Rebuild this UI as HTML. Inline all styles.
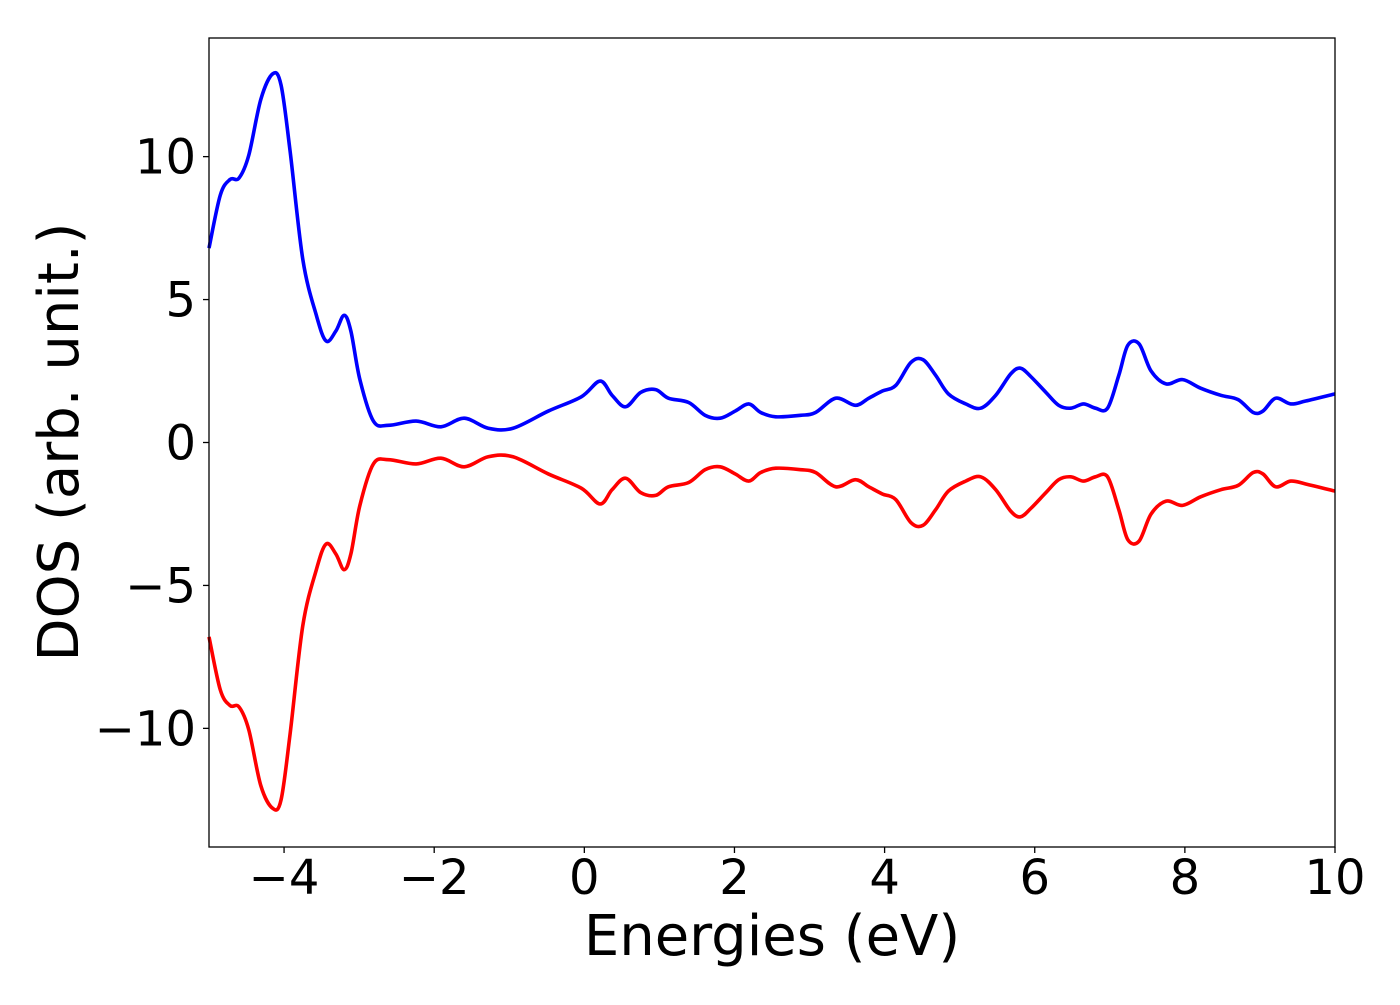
<!DOCTYPE html>
<html><head><meta charset="utf-8"><style>
html,body{margin:0;padding:0;background:#fff;}
svg text{font-family:"DejaVu Sans","Liberation Sans",sans-serif;fill:#000;}
</style></head><body>
<svg width="1400" height="1000" viewBox="0 0 1400 1000" xmlns="http://www.w3.org/2000/svg">
<rect width="1400" height="1000" fill="#fff"/>
<g id="plot"></g>
<rect x="209" y="38" width="1126" height="809" fill="none" stroke="#000" stroke-width="1.3"/>
<g id="xt"></g><g id="yt"></g>
<text x="772" y="955" font-size="56" text-anchor="middle">Energies (eV)</text>
<text x="78" y="442" font-size="56" text-anchor="middle" transform="rotate(-90 78 442)">DOS (arb. unit.)</text>
</svg>
<script>
const energies=[-5,-4.85,-4.72,-4.6,-4.47,-4.31,-4.15,-4.04,-3.92,-3.75,-3.57,-3.44,-3.31,-3.2,-3.11,-2.99,-2.81,-2.61,-2.24,-1.91,-1.6,-1.28,-0.95,-0.48,-0.04,0.21,0.37,0.55,0.75,0.95,1.12,1.39,1.61,1.81,2.01,2.19,2.35,2.55,2.88,3.08,3.35,3.61,3.79,3.97,4.15,4.35,4.51,4.68,4.85,5.08,5.28,5.48,5.68,5.81,5.95,6.15,6.32,6.48,6.65,6.81,6.97,7.12,7.24,7.39,7.55,7.75,7.97,8.21,8.48,8.71,8.91,9.04,9.21,9.41,9.61,10];
const dosUp=[6.8,8.65,9.2,9.25,10.05,12.0,12.9,12.5,10.2,6.4,4.45,3.55,3.9,4.45,3.9,2.2,0.75,0.6,0.75,0.55,0.85,0.5,0.5,1.1,1.6,2.15,1.65,1.25,1.75,1.85,1.55,1.4,0.95,0.85,1.1,1.35,1.05,0.9,0.95,1.05,1.55,1.3,1.55,1.8,2.0,2.8,2.9,2.35,1.7,1.35,1.2,1.65,2.4,2.6,2.3,1.75,1.3,1.2,1.35,1.2,1.2,2.35,3.4,3.45,2.5,2.05,2.2,1.9,1.65,1.5,1.05,1.1,1.55,1.35,1.45,1.7];
const dosDown=[-6.8,-8.65,-9.2,-9.25,-10.05,-12.0,-12.8,-12.5,-10.2,-6.4,-4.45,-3.55,-3.9,-4.45,-3.9,-2.2,-0.75,-0.6,-0.75,-0.55,-0.85,-0.5,-0.5,-1.1,-1.6,-2.15,-1.65,-1.25,-1.75,-1.85,-1.55,-1.4,-0.95,-0.85,-1.1,-1.35,-1.05,-0.9,-0.95,-1.05,-1.55,-1.3,-1.55,-1.8,-2.0,-2.8,-2.9,-2.35,-1.7,-1.35,-1.2,-1.65,-2.4,-2.6,-2.3,-1.75,-1.3,-1.2,-1.35,-1.2,-1.2,-2.35,-3.4,-3.45,-2.5,-2.05,-2.2,-1.9,-1.65,-1.5,-1.05,-1.1,-1.55,-1.35,-1.45,-1.7];
const xTicks=[-4,-2,0,2,4,6,8,10];
const yTicks=[-10,-5,0,5,10];
const NS="http://www.w3.org/2000/svg";
const X0=209,X1=1335,Y0=847,Y1=38,xmin=-5,xmax=10,ymin=-14.15,ymax=14.15;
function sx(v){return X0+(v-xmin)/(xmax-xmin)*(X1-X0);}
function sy(v){return Y0-(v-ymin)/(ymax-ymin)*(Y0-Y1);}
function fmt(v){return v<0?"\u2212"+Math.abs(v):String(v);}
function pathFor(xs,ys){
  const p=xs.map((x,i)=>[sx(x),sy(ys[i])]);
  let d="M"+p[0][0]+","+p[0][1];
  for(let i=0;i<p.length-1;i++){
    const a=p[Math.max(0,i-1)],b=p[i],c=p[i+1],e=p[Math.min(p.length-1,i+2)];
    d+=" C"+(b[0]+(c[0]-a[0])/6)+","+(b[1]+(c[1]-a[1])/6)+" "+(c[0]-(e[0]-b[0])/6)+","+(c[1]-(e[1]-b[1])/6)+" "+c[0]+","+c[1];
  }
  return d;
}
const plot=document.getElementById("plot");
[[dosUp,"#0000ff","spin-up-line"],[dosDown,"#ff0000","spin-down-line"]].forEach(s=>{
  const el=document.createElementNS(NS,"path");
  el.setAttribute("d",pathFor(energies,s[0]));
  el.setAttribute("fill","none");el.setAttribute("stroke",s[1]);el.setAttribute("stroke-width","3.6");
  
  
  plot.appendChild(el);
});
const xt=document.getElementById("xt");
xTicks.forEach(t=>{
  const x=sx(t);
  const l=document.createElementNS(NS,"line");
  l.setAttribute("x1",x);l.setAttribute("x2",x);l.setAttribute("y1",Y0);l.setAttribute("y2",Y0+6);l.setAttribute("stroke","#000");l.setAttribute("stroke-width","1.3");
  
  
  xt.appendChild(l);
  const tx=document.createElementNS(NS,"text");
  tx.setAttribute("x",x);tx.setAttribute("y",894);tx.setAttribute("font-size","48");tx.setAttribute("text-anchor","middle");
  tx.textContent=fmt(t);
  
  
  xt.appendChild(tx);
});
const yt=document.getElementById("yt");
yTicks.forEach(t=>{
  const y=sy(t);
  const l=document.createElementNS(NS,"line");
  l.setAttribute("x1",X0-6);l.setAttribute("x2",X0);l.setAttribute("y1",y);l.setAttribute("y2",y);l.setAttribute("stroke","#000");l.setAttribute("stroke-width","1.3");
  
  
  yt.appendChild(l);
  const tx=document.createElementNS(NS,"text");
  tx.setAttribute("x",X0-13);tx.setAttribute("y",y+17);tx.setAttribute("font-size","48");tx.setAttribute("text-anchor","end");
  tx.textContent=fmt(t);
  
  
  yt.appendChild(tx);
});
</script>
</body></html>
